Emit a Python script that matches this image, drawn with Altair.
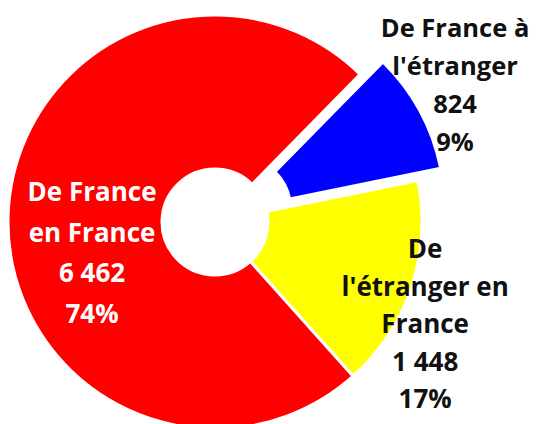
import math
import altair as alt
import pandas as pd

# ---- data ----
categories = ["De France à l'étranger", "De l'étranger en France", "De France en France"]
values = [824, 1448, 6462]
value_labels = ["824", "1 448", "6 462"]
pct_labels = ["9%", "17%", "74%"]
name_lines = [["De France à", "l'étranger"],
              ["De", "l'étranger en", "France"],
              ["De France", "en France"]]
colors = ["#0000FF", "#FFFF00", "#FF0000"]
text_colors = ["#111111", "#111111", "#FFFFFF"]

# ---- style / layout ----
START_DEG = 44.5
CX, CY = 207, 214          # pie centre inside the plot area
R_OUT, R_IN = 207, 53
explode = [26, 0, 0]        # pixel explode per slice
label_radius = [280, 234, 123]
label_dx = [-6, -12, 0]
label_dy = [-59, -45, -26]
label_size = [25.5, 26, 26]
line_heights = [38, 37.5, 40.5]

df = pd.DataFrame({
    "category": categories,
    "value": values,
    "order": list(range(len(values))),
    "label": ["\n".join(name_lines[i] + [value_labels[i], pct_labels[i]]) for i in range(len(values))],
})

start = math.radians(START_DEG)
base = (
    alt.Chart(df)
    .transform_joinaggregate(total="sum(value)")
    .transform_window(cum="sum(value)", sort=[alt.SortField("order")], frame=[None, 0])
    .transform_calculate(t0=f"{start} + 2*PI*(datum.cum - datum.value)/datum.total")
    .transform_calculate(t1=f"{start} + 2*PI*datum.cum/datum.total")
    .transform_calculate(tm="(datum.t0 + datum.t1)/2")
)

# bisector angles for explode directions (from the same values)
tot = sum(values)
cum = 0
mids = []
for v in values:
    mids.append(start + 2 * math.pi * (cum + v / 2) / tot)
    cum += v

layers = []
for i in range(len(values)):
    ox = explode[i] * math.sin(mids[i])
    oy = -explode[i] * math.cos(mids[i])
    arc = (
        base.transform_filter(alt.datum.order == i)
        .mark_arc(innerRadius=R_IN, outerRadius=R_OUT, stroke="white", strokeWidth=3)
        .encode(
            theta=alt.Theta("t0:Q", scale=None, stack=None),
            theta2="t1:Q",
            color=alt.Color("category:N", scale=alt.Scale(domain=categories, range=colors), legend=None),
            x=alt.value(CX + ox),
            y=alt.value(CY + oy),
        )
    )
    layers.append(arc)

for i in range(len(values)):
    txt = (
        base.transform_filter(alt.datum.order == i)
        .mark_text(font="Open Sans", fontWeight="bold", fontSize=label_size[i], lineHeight=line_heights[i],
                   align="center", baseline="middle", lineBreak="\n",
                   color=text_colors[i], dx=label_dx[i], dy=label_dy[i])
        .encode(
            theta=alt.Theta("tm:Q", scale=None, stack=None),
            radius=alt.value(label_radius[i]),
            text="label:N",
            x=alt.value(CX),
            y=alt.value(CY),
        )
    )
    layers.append(txt)

chart = (
    alt.layer(*layers)
    .properties(width=521, height=416, padding=0, autosize="none")
    .configure_view(stroke=None)
)

chart.save("out.html", embed_options={"renderer": "svg", "actions": False})
